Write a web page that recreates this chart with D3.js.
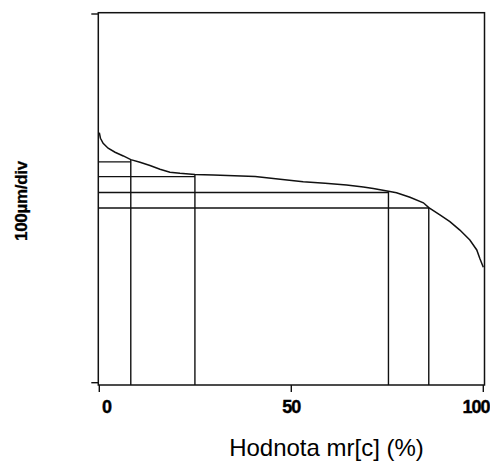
<!DOCTYPE html>
<html>
<head>
<meta charset="utf-8">
<script src="https://cdn.jsdelivr.net/npm/d3@7"></script>
<style>
  html, body { margin: 0; padding: 0; background: #fff; }
  svg { display: block; }
</style>
</head>
<body>
<script>
// ---- data ----
const mrValues = [0, 0.3, 1.0, 2.3, 4.1, 6.25, 8.2, 10.6, 13.2, 15.8, 18.4, 21.0, 24.9, 29.7, 40.6, 47.1, 53.1, 58.8, 64.4, 68.75, 71.35, 75.3, 77.4, 80.9, 84.4, 85.8, 88.7, 91.3, 93.9, 96.5, 98.3, 99.1, 100];
const heightValues = [67.8, 66.3, 64.9, 63.6, 62.5, 61.5, 60.5, 59.8, 58.9, 57.9, 57.1, 56.8, 56.5, 56.3, 55.9, 55.2, 54.5, 54.1, 53.6, 53.1, 52.7, 51.9, 51.5, 50.3, 48.8, 47.5, 45.5, 43.7, 41.4, 38.7, 36.0, 33.7, 31.3];
const levelMr = [8.2, 24.9, 75.3, 85.8];
const levelHeight = [59.9, 55.9, 51.6, 47.4];
const xTicks = [0, 50, 100];
const xTickLabels = ["0", "50", "100"];
const yTicks = [0, 100];
const xTitle = "Hodnota mr[c] (%)";
const yTitle = "100µm/div";

(function () {
  // ---- layout ----
  const W = 490, H = 461;
  const ink = "#111";
  const svg = d3.select("body").append("svg").attr("width", W).attr("height", H);

  const x = d3.scaleLinear().domain([0, 100]).range([99.3, 483.3]);
  const xLab = d3.scaleLinear().domain([0, 100]).range([106.5, 476]);
  const y = d3.scaleLinear().domain([0, 100]).range([382.7, 14]);

  const fL = x(0) - 1, fR = x(100) + 1.2, fT = y(100) - 1.3, fB = y(0) + 2.3;

  // frame
  svg.append("rect")
    .attr("x", fL).attr("y", fT)
    .attr("width", fR - fL).attr("height", fB - fT)
    .attr("fill", "none").attr("stroke", ink).attr("stroke-width", 1.5);

  // y ticks
  svg.selectAll(".yt").data(yTicks).enter().append("line")
    .attr("x1", fL - 7).attr("x2", fL)
    .attr("y1", d => y(d)).attr("y2", d => y(d))
    .attr("stroke", ink).attr("stroke-width", 1.4);

  // x ticks
  svg.selectAll(".xt").data(xTicks).enter().append("line")
    .attr("x1", d => x(d)).attr("x2", d => x(d))
    .attr("y1", fB).attr("y2", fB + 7)
    .attr("stroke", ink).attr("stroke-width", 1.4);

  svg.selectAll(".xl").data(xTicks).enter().append("text")
    .attr("x", d => xLab(d)).attr("y", 413)
    .attr("text-anchor", "middle")
    .attr("font-family", "Liberation Sans, Arial, sans-serif")
    .attr("font-weight", "bold").attr("font-size", 18)
    .attr("letter-spacing", -1)
    .attr("fill", "#000").attr("stroke", "#000").attr("stroke-width", 0.4)
    .text((d, i) => xTickLabels[i]);

  // curve
  const pts = mrValues.map((m, i) => [m, heightValues[i]]);
  const line = d3.line().x(d => x(d[0])).y(d => y(d[1]));
  svg.append("path").datum(pts)
    .attr("d", line)
    .attr("fill", "none").attr("stroke", ink).attr("stroke-width", 1.5);

  function curveAt(m) {
    const i = Math.max(1, d3.bisectLeft(mrValues, m));
    const t = (m - mrValues[i - 1]) / (mrValues[i] - mrValues[i - 1]);
    return heightValues[i - 1] + t * (heightValues[i] - heightValues[i - 1]);
  }

  // horizontal level lines
  svg.selectAll(".hl").data(levelMr).enter().append("line")
    .attr("x1", fL).attr("x2", d => x(d))
    .attr("y1", (d, i) => y(levelHeight[i])).attr("y2", (d, i) => y(levelHeight[i]))
    .attr("stroke", ink).attr("stroke-width", 1.4);

  // vertical lines
  svg.selectAll(".vl").data(levelMr).enter().append("line")
    .attr("x1", d => x(d)).attr("x2", d => x(d))
    .attr("y1", (d, i) => y(Math.max(levelHeight[i], curveAt(d))))
    .attr("y2", fB)
    .attr("stroke", ink).attr("stroke-width", 1.4);

  // titles
  svg.append("text")
    .attr("x", 326.5).attr("y", 456)
    .attr("text-anchor", "middle")
    .attr("font-family", "Liberation Sans, Arial, sans-serif")
    .attr("font-size", 24)
    .attr("fill", "#000")
    .text(xTitle);

  svg.append("text")
    .attr("transform", "translate(27,201) rotate(-90)")
    .attr("text-anchor", "middle")
    .attr("font-family", "Liberation Sans, Arial, sans-serif")
    .attr("font-weight", "bold").attr("font-size", 17)
    .attr("letter-spacing", -0.3)
    .attr("fill", "#000").attr("stroke", "#000").attr("stroke-width", 0.3)
    .text(yTitle);
})();
</script>
</body>
</html>
